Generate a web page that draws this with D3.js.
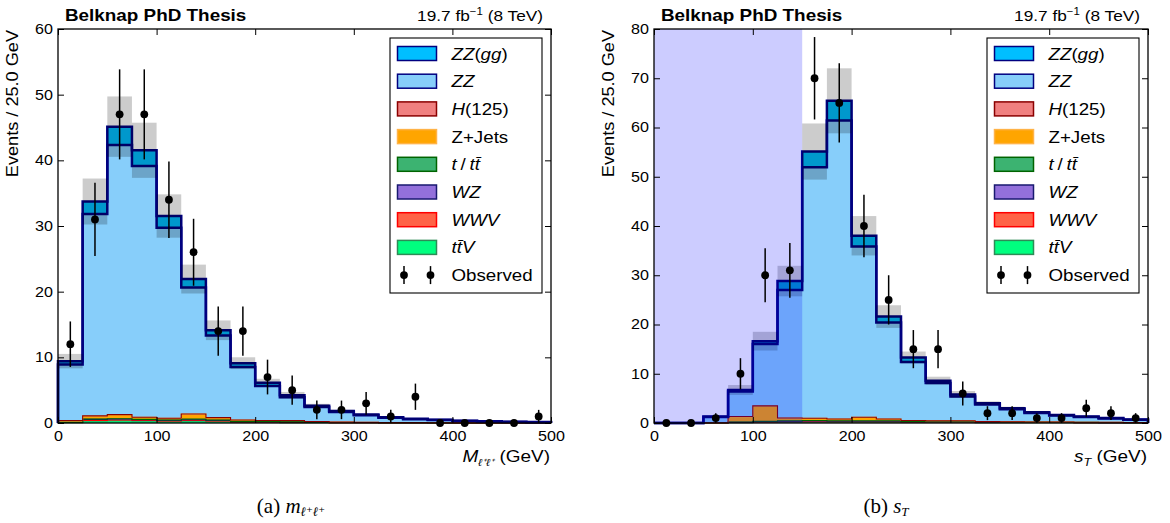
<!DOCTYPE html>
<html>
<head>
<meta charset="utf-8">
<script src="https://cdn.jsdelivr.net/npm/d3@7"></script>
<style>
  body { margin: 0; background: #fff; }
  svg { display: block; }
</style>
</head>
<body>
<svg id="fig" width="1170" height="523"></svg>
<script>
// bins (GeV), 25 GeV wide
var binLow = [0, 25, 50, 75, 100, 125, 150, 175, 200, 225, 250, 275, 300, 325, 350, 375, 400, 425, 450, 475];
var binWidth = 25;
var xTicks = [0, 100, 200, 300, 400, 500];

/* M(l+l+) panel */
var mllObserved = [12, 31, 47, 47, 34, 26, 14, 14, 7, 5, 2, 2, 3, 1, 4, 0, 0, 0, 0, 1];
var mllZZgg = [0.5, 1.9, 2.8, 2.4, 1.8, 1.3, 0.8, 0.6, 0.5, 0.3, 0.2, 0.15, 0.11, 0.08, 0.07, 0.06, 0.05, 0.04, 0.03, 0.02];
var mllZZ = [8.55, 30.75, 41.05, 38.25, 29.0, 19.25, 12.5, 8.05, 5.25, 3.55, 2.2, 1.53, 1.07, 0.73, 0.5, 0.42, 0.29, 0.2, 0.16, 0.12];
var mllH = [0.02, 0.03, 0.03, 0.03, 0.02, 0.02, 0.02, 0.01, 0.01, 0.01, 0, 0, 0, 0, 0, 0, 0, 0, 0, 0];
var mllZJets = [0.25, 0.45, 0.6, 0.3, 0.25, 0.75, 0.35, 0.2, 0.15, 0.2, 0.1, 0.05, 0.03, 0.02, 0.02, 0.01, 0.01, 0, 0, 0];
var mllTop = [0, 0.05, 0.05, 0.05, 0.05, 0.1, 0.05, 0.05, 0.02, 0.02, 0.01, 0.01, 0, 0, 0, 0, 0, 0, 0, 0];
var mllWZ = [0.03, 0.15, 0.15, 0.1, 0.1, 0.1, 0.1, 0.05, 0.05, 0.05, 0.03, 0.02, 0.02, 0.01, 0.01, 0.01, 0, 0, 0, 0];
var mllWWV = [0.04, 0.1, 0.1, 0.1, 0.1, 0.1, 0.1, 0.05, 0.05, 0.05, 0.05, 0.03, 0.03, 0.02, 0.02, 0.01, 0.01, 0.01, 0.01, 0.01];
var mllTTV = [0.03, 0.3, 0.35, 0.3, 0.2, 0.3, 0.2, 0.1, 0.1, 0.05, 0.03, 0.02, 0.02, 0.01, 0.01, 0, 0, 0, 0, 0];
var mllBandErr = [1.1, 3.5, 4.6, 4.2, 3.3, 2.2, 1.5, 0.9, 0.6, 0.5, 0.3, 0.2, 0.15, 0.1, 0.08, 0.06, 0.05, 0.04, 0.03, 0.02];

/* sT panel */
var stObserved = [0, 0, 1, 10, 30, 31, 70, 65, 40, 25, 15, 15, 6, 2, 2, 1, 1, 3, 2, 1];
var stZZgg = [0, 0, 0.1, 0.3, 0.6, 1.8, 3.2, 4.0, 2.2, 1.2, 0.9, 0.5, 0.4, 0.25, 0.2, 0.15, 0.1, 0.1, 0.07, 0.05];
var stZZ = [0, 0, 1.15, 5.1, 12.55, 26.0, 50.95, 60.6, 34.65, 19.6, 11.9, 7.65, 4.95, 3.45, 2.55, 1.85, 1.3, 1.05, 0.78, 0.55];
var stH = [0, 0, 0, 0.01, 0.02, 0.02, 0.02, 0.02, 0.02, 0.01, 0.01, 0, 0, 0, 0, 0, 0, 0, 0, 0];
var stZJets = [0, 0, 0, 1.1, 3.1, 0.55, 0.45, 0.35, 0.7, 0.35, 0.2, 0.1, 0.1, 0.05, 0.05, 0.03, 0.05, 0.02, 0.05, 0.02];
var stTop = [0, 0, 0, 0.05, 0.05, 0.1, 0.1, 0.1, 0.1, 0.1, 0.05, 0.05, 0.05, 0.05, 0.03, 0.03, 0.03, 0.03, 0.02, 0.02];
var stWZ = [0, 0, 0.02, 0.05, 0.1, 0.1, 0.15, 0.1, 0.1, 0.1, 0.05, 0.05, 0.05, 0.05, 0.04, 0.04, 0.03, 0.03, 0.02, 0.02];
var stWWV = [0, 0, 0.01, 0.05, 0.1, 0.1, 0.1, 0.1, 0.1, 0.1, 0.1, 0.15, 0.15, 0.1, 0.08, 0.05, 0.05, 0.04, 0.03, 0.02];
var stTTV = [0, 0, 0.02, 0.05, 0.1, 0.15, 0.15, 0.15, 0.15, 0.15, 0.1, 0.1, 0.1, 0.05, 0.05, 0.05, 0.04, 0.03, 0.03, 0.02];
var stBandErr = [0, 0, 0.2, 1.0, 1.9, 3.1, 5.7, 6.6, 4.0, 2.3, 1.2, 0.8, 0.7, 0.4, 0.3, 0.25, 0.2, 0.15, 0.12, 0.1];

// stack order, bottom to top
var processes = [
  { key: "ttV", fill: "#00FF7F", edge: "#2E8B57" },
  { key: "WWV", fill: "#FF6347", edge: "#FF0000" },
  { key: "WZ", fill: "#9370DB", edge: "#191970" },
  { key: "top", fill: "#3CB371", edge: "#006400" },
  { key: "ZJets", fill: "#FFA500", edge: "#FFB347" },
  { key: "H", fill: "#F08080", edge: "#8B0000" },
  { key: "ZZ", fill: "#87CEFA", edge: "#000080" },
  { key: "ZZgg", fill: "#00BFFF", edge: "#000080" }
];

var legendLabels = [
  [{ t: "ZZ", i: 1 }, { t: "(" }, { t: "gg", i: 1 }, { t: ")" }],
  [{ t: "ZZ", i: 1 }],
  [{ t: "H", i: 1 }, { t: "(125)" }],
  [{ t: "Z+Jets" }],
  [{ t: "t", i: 1 }, { t: "\u2009/\u2009" }, { t: "tt\u0304", i: 1 }],
  [{ t: "WZ", i: 1 }],
  [{ t: "WWV", i: 1 }],
  [{ t: "tt\u0304V", i: 1 }],
  [{ t: "Observed" }]
];

var FONT = "'Liberation Sans', Arial, sans-serif";
var STRETCH = 1.15;

var svg = d3.select("#fig");

function addText(parent, x, y, parts, opt) {
  opt = opt || {};
  var tr = "translate(" + x + "," + y + ")" + (opt.rotate ? " rotate(-90)" : "") +
    " scale(" + (opt.stretch || STRETCH) + ",1)";
  var t = parent.append("text")
    .attr("transform", tr)
    .attr("text-anchor", opt.anchor || "start")
    .attr("font-size", opt.size || 14)
    .attr("font-family", opt.family || FONT)
    .attr("font-weight", opt.weight || "normal")
    .attr("fill", "#000");
  parts.forEach(function(p) {
    if (typeof p === "string") p = { t: p };
    var s = t.append("tspan").text(p.t);
    if (p.i) s.attr("font-style", "italic");
    if (p.s) s.attr("font-size", p.s);
    if (p.dy) s.attr("dy", p.dy);
  });
  return t;
}

function drawPanel(cfg) {
  var g = svg.append("g");
  var xScale = d3.scaleLinear().domain([0, 500]).range([cfg.left, cfg.right]);
  var yScale = d3.scaleLinear().domain([0, cfg.ymax]).range([cfg.bottom, cfg.top]);

  // stacked layers
  var base = binLow.map(function() { return 0; });
  var layers = processes.map(function(p) {
    var vals = cfg.values[p.key];
    var pts = [];
    binLow.forEach(function(lo, i) {
      var y0 = base[i], y1 = base[i] + vals[i];
      pts.push({ x: lo, lo: y0, hi: y1 });
      pts.push({ x: lo + binWidth, lo: y0, hi: y1 });
      base[i] = y1;
    });
    return { p: p, pts: pts };
  });
  var total = base.slice();

  var area = d3.area()
    .x(function(d) { return xScale(d.x); })
    .y0(function(d) { return yScale(d.lo); })
    .y1(function(d) { return yScale(d.hi); });
  var topLine = d3.line()
    .x(function(d) { return xScale(d.x); })
    .y(function(d) { return yScale(d.hi); });

  var stack = g.append("g");
  layers.forEach(function(l) {
    stack.append("path").attr("d", area(l.pts)).attr("fill", l.p.fill).attr("stroke", "none");
  });
  layers.forEach(function(l) {
    var big = l.p.key === "ZZ" || l.p.key === "ZZgg";
    var pts = [{ x: 0, hi: 0 }].concat(l.pts).concat([{ x: 500, hi: 0 }]);
    stack.append("path").attr("d", topLine(big ? pts : l.pts))
      .attr("fill", "none")
      .attr("stroke", l.p.edge)
      .attr("stroke-width", big ? 2.5 : 1.1);
  });

  // uncertainty band
  g.append("g").selectAll("rect")
    .data(binLow.filter(function(d, i) { return total[i] > 0; }))
    .enter().append("rect")
    .attr("x", function(d) { return xScale(d); })
    .attr("width", function(d) { return xScale(d + binWidth) - xScale(d); })
    .attr("y", function(d) { var i = binLow.indexOf(d); return yScale(total[i] + cfg.bandErr[i]); })
    .attr("height", function(d) {
      var i = binLow.indexOf(d);
      return yScale(Math.max(0, total[i] - cfg.bandErr[i])) - yScale(total[i] + cfg.bandErr[i]);
    })
    .attr("fill", "#000")
    .attr("fill-opacity", 0.2);

  // blinded / control region shading
  if (cfg.shadeTo) {
    g.append("rect")
      .attr("x", xScale(0)).attr("y", cfg.top)
      .attr("width", xScale(cfg.shadeTo) - xScale(0))
      .attr("height", cfg.bottom - cfg.top)
      .attr("fill", "#0000FF").attr("fill-opacity", 0.2);
  }

  // observed
  var obs = g.append("g");
  cfg.observed.forEach(function(n, i) {
    var cx = xScale(binLow[i] + binWidth / 2);
    if (n > 0) {
      var e = Math.sqrt(n);
      obs.append("line")
        .attr("x1", cx).attr("x2", cx)
        .attr("y1", yScale(Math.max(0, n - e))).attr("y2", yScale(n + e))
        .attr("stroke", "#000").attr("stroke-width", 1.5);
    }
    obs.append("circle").attr("cx", cx).attr("cy", yScale(n)).attr("r", 3.9).attr("fill", "#000");
  });

  // axes (ticks inward on all four sides)
  var yTicks = d3.range(0, cfg.ymax + 1, 10);
  var axB = g.append("g").attr("transform", "translate(0," + cfg.bottom + ")")
    .call(d3.axisBottom(xScale).tickValues(xTicks).tickSize(-6).tickPadding(8.5).tickFormat(d3.format("d")));
  var axL = g.append("g").attr("transform", "translate(" + cfg.left + ",0)")
    .call(d3.axisLeft(yScale).tickValues(yTicks).tickSize(-6).tickPadding(5).tickFormat(d3.format("d")));
  g.append("g").attr("transform", "translate(0," + cfg.top + ")")
    .call(d3.axisTop(xScale).tickValues(xTicks).tickSize(-6).tickFormat(""));
  g.append("g").attr("transform", "translate(" + cfg.right + ",0)")
    .call(d3.axisRight(yScale).tickValues(yTicks).tickSize(-6).tickFormat(""));
  g.selectAll(".domain").remove();
  g.selectAll(".tick line").attr("stroke", "#000").attr("stroke-width", 1);
  g.selectAll(".tick text").attr("font-size", 14).attr("font-family", FONT).attr("fill", "#000");
  axB.selectAll(".tick text").attr("transform", "scale(" + STRETCH + ",1)");
  axL.selectAll(".tick text")
    .attr("x", -5 / STRETCH)
    .attr("transform", "scale(" + STRETCH + ",1)");

  g.append("rect")
    .attr("x", cfg.left).attr("y", cfg.top)
    .attr("width", cfg.right - cfg.left).attr("height", cfg.bottom - cfg.top)
    .attr("fill", "none").attr("stroke", "#000").attr("stroke-width", 1.3);

  // labels
  addText(g, cfg.left + 7, 21, ["Belknap PhD Thesis"], { size: 16, weight: "bold", stretch: 1.18 });
  addText(g, cfg.right - 8, 21, ["19.7 fb", { t: "\u22121", s: 10, dy: -6 }, { t: " (8 TeV)", dy: 6 }], { size: 15, anchor: "end" });
  addText(g, cfg.left - 40, cfg.top + 1, ["Events / 25.0 GeV"], { size: 16.5, anchor: "end", rotate: true, stretch: 1.1 });
  addText(g, cfg.right - 1, 462, cfg.xlabel, { size: 16.5, anchor: "end" });

  // legend
  var lx = cfg.right - 161, ly = 38;
  var leg = g.append("g");
  leg.append("rect").attr("x", lx).attr("y", ly).attr("width", 152).attr("height", 255)
    .attr("fill", "#fff").attr("stroke", "#000").attr("stroke-width", 1.1);
  var legendStyles = processes.slice().reverse();
  legendLabels.forEach(function(lab, i) {
    var cy = ly + 15.5 + i * 27.7;
    if (i < legendStyles.length) {
      leg.append("rect").attr("x", lx + 7.5).attr("y", cy - 7).attr("width", 39).attr("height", 14)
        .attr("fill", legendStyles[i].fill).attr("stroke", legendStyles[i].edge).attr("stroke-width", 1.5);
    } else {
      [lx + 14, lx + 40.5].forEach(function(mx) {
        leg.append("line").attr("x1", mx).attr("x2", mx).attr("y1", cy - 9).attr("y2", cy + 9)
          .attr("stroke", "#000").attr("stroke-width", 1.5);
        leg.append("circle").attr("cx", mx).attr("cy", cy).attr("r", 3.9).attr("fill", "#000");
      });
    }
    addText(leg, lx + 61.5, cy + 6, lab, { size: 16.3 });
  });

  // caption
  addText(svg, cfg.captionX, 513, cfg.caption, { size: 21, family: "'Liberation Serif', 'DejaVu Serif', serif", stretch: 1, anchor: "middle" });
}

drawPanel({
  left: 58, right: 551, top: 29, bottom: 423, ymax: 60,
  values: { ttV: mllTTV, WWV: mllWWV, WZ: mllWZ, top: mllTop, ZJets: mllZJets, H: mllH, ZZ: mllZZ, ZZgg: mllZZgg },
  bandErr: mllBandErr,
  observed: mllObserved,
  xlabel: [{ t: "M", i: 1 }, { t: "\u2113\u207A\u2113\u207A", i: 1, s: 10, dy: 4 }, { t: " (GeV)", dy: -4 }],
  captionX: 291,
  caption: ["(a)  ", { t: "m", i: 1 }, { t: "\u2113\u207A\u2113\u207A", i: 1, s: 13, dy: 3 }]
});

drawPanel({
  left: 654, right: 1148, top: 29, bottom: 423, ymax: 80,
  values: { ttV: stTTV, WWV: stWWV, WZ: stWZ, top: stTop, ZJets: stZJets, H: stH, ZZ: stZZ, ZZgg: stZZgg },
  bandErr: stBandErr,
  observed: stObserved,
  shadeTo: 150,
  xlabel: [{ t: "s", i: 1 }, { t: "T", i: 1, s: 11, dy: 4 }, { t: " (GeV)", dy: -4 }],
  captionX: 886,
  caption: ["(b)  ", { t: "s", i: 1 }, { t: "T", i: 1, s: 13, dy: 3 }]
});
</script>
</body>
</html>
